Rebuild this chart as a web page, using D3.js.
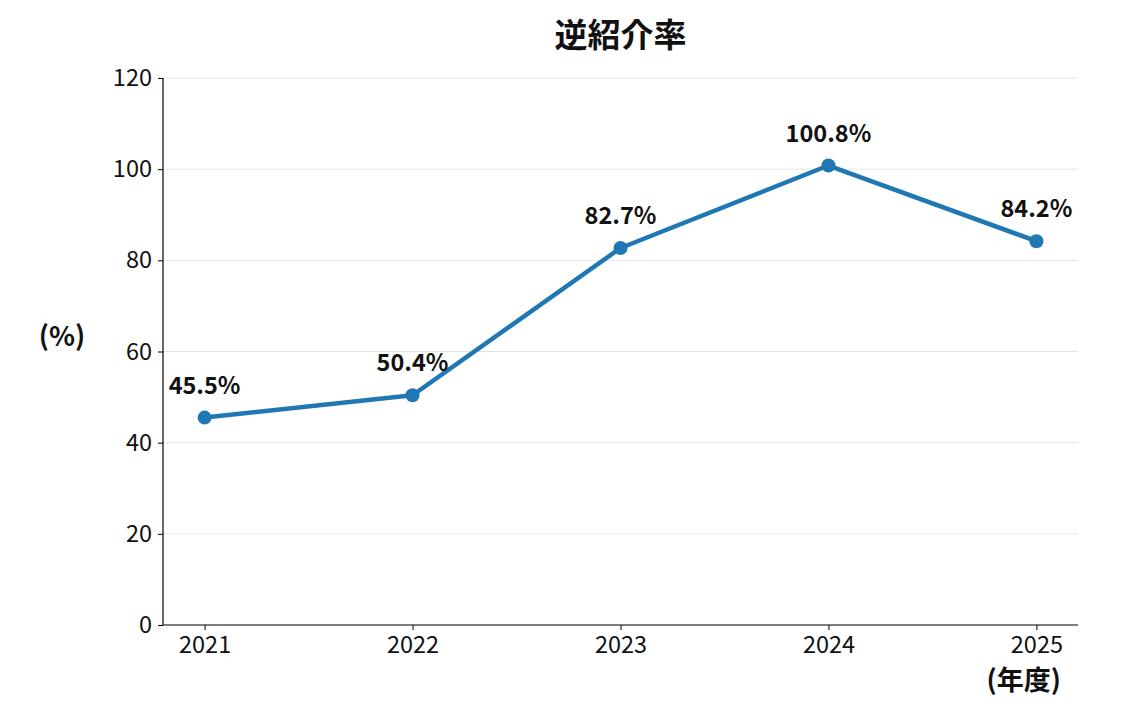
<!DOCTYPE html>
<html>
<head>
<meta charset="utf-8">
<script src="https://cdn.jsdelivr.net/npm/d3@7"></script>
<style>
  body { margin: 0; background: #fff; }
  text { font-family: "Noto Sans CJK JP", "Noto Sans", sans-serif; }
</style>
</head>
<body>
<svg id="chart" width="1125" height="702"></svg>
<script>
// data
const years = ["2021", "2022", "2023", "2024", "2025"];
const rates = [45.5, 50.4, 82.7, 100.8, 84.2];
const yTicks = [0, 20, 40, 60, 80, 100, 120];

const margin = { top: 78, right: 47, bottom: 77, left: 163 };
const width = 1125 - margin.left - margin.right;
const height = 702 - margin.top - margin.bottom;

const svg = d3.select("#chart");
const g = svg.append("g").attr("transform", "translate(" + margin.left + "," + margin.top + ")");

const x = d3.scalePoint().domain(years).range([0, width]).padding(0.2);
const y = d3.scaleLinear().domain([0, 120]).range([height, 0]);

// grid lines
g.append("g")
    .selectAll("line")
    .data(yTicks.slice(1))
    .enter()
    .append("line")
    .attr("x1", 0)
    .attr("x2", width)
    .attr("y1", (d) => y(d))
    .attr("y2", (d) => y(d))
    .attr("stroke", "#e3e3e3")
    .attr("stroke-width", 1);

// axes
const yAxis = g.append("g")
    .call(d3.axisLeft(y).tickValues(yTicks).tickSize(5).tickPadding(6));
const xAxis = g.append("g")
    .attr("transform", "translate(0," + height + ")")
    .call(d3.axisBottom(x).tickSize(5).tickPadding(6));

[xAxis, yAxis].forEach((a) => {
    a.select(".domain").attr("stroke", "#000").attr("stroke-width", 1.2);
    a.selectAll(".tick line").attr("stroke", "#000").attr("stroke-width", 1);
    a.selectAll("text").attr("font-size", "23.5px").attr("fill", "#111")
        .style("font-family", "'Noto Sans CJK JP', sans-serif");
});
yAxis.select(".domain").attr("d", "M0," + height + "V0");
xAxis.select(".domain").attr("d", "M0,0H" + width);

// line
const line = d3.line()
    .x((d, i) => x(years[i]))
    .y((d) => y(d));

g.append("path")
    .datum(rates)
    .attr("fill", "none")
    .attr("stroke", "#1f77b4")
    .attr("stroke-width", 4.5)
    .attr("stroke-linejoin", "round")
    .attr("d", line);

g.append("g")
    .selectAll("circle")
    .data(rates)
    .enter()
    .append("circle")
    .attr("cx", (d, i) => x(years[i]))
    .attr("cy", (d) => y(d))
    .attr("r", 7)
    .attr("fill", "#1f77b4");

// value labels
g.append("g")
    .selectAll("text")
    .data(rates)
    .enter()
    .append("text")
    .attr("x", (d, i) => x(years[i]))
    .attr("y", (d) => y(d) - 24)
    .attr("text-anchor", "middle")
    .attr("font-size", "23.5px")
    .attr("font-weight", "bold")
    .attr("fill", "#111")
    .text((d) => d.toFixed(1) + "%");

// title
svg.append("text")
    .attr("x", margin.left + width / 2)
    .attr("y", 47)
    .attr("text-anchor", "middle")
    .attr("font-size", "33px")
    .attr("font-weight", "bold")
    .attr("fill", "#111")
    .text("逆紹介率");

// axis titles
svg.append("text")
    .attr("x", 62)
    .attr("y", 346)
    .attr("text-anchor", "middle")
    .attr("font-size", "27px")
    .attr("font-weight", "bold")
    .attr("fill", "#111")
    .text("(%)");

svg.append("text")
    .attr("x", 1061)
    .attr("y", 690)
    .attr("text-anchor", "end")
    .attr("font-size", "27px")
    .attr("font-weight", "bold")
    .attr("fill", "#111")
    .text("(年度)");
</script>
</body>
</html>
